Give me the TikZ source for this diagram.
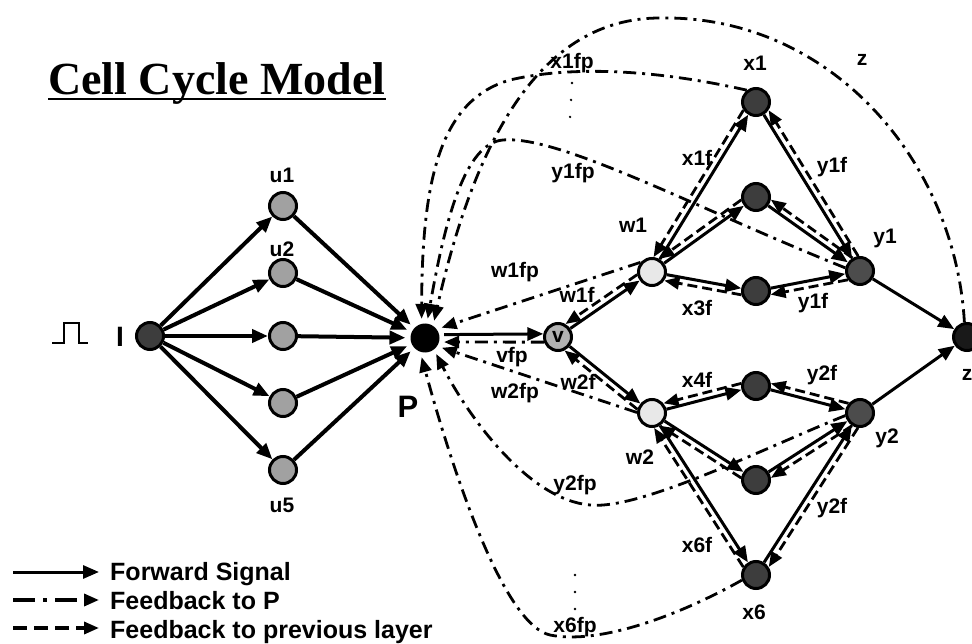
\documentclass[tikz,border=0pt]{standalone}
\usepackage{fontspec}
\setmainfont{Liberation Sans}
\newfontfamily\titlefont{Liberation Serif}
\usetikzlibrary{arrows.meta}

\begin{document}
\begin{tikzpicture}[
  x=1pt, y=-1pt,
  font=\fontsize{21}{23}\selectfont\bfseries,
  every node/.style={inner sep=0pt},
  cell/.style={circle, draw, line width=3pt, minimum size=27pt},
  dark/.style={cell, fill=black!76},
  ydark/.style={cell, fill=black!70},
  mid/.style={cell, fill=black!37},
  pale/.style={cell, fill=black!9},
  tip/.style={-{Triangle[length=16pt,width=13pt]}},
  fwd/.style={tip, line width=3pt},
  fwdin/.style={tip, line width=4pt},
  fbl/.style={-{Triangle[length=15pt,width=12pt]}, line width=2.8pt, dash pattern=on 10pt off 5pt},
  fbp/.style={-{Triangle[length=15pt,width=12pt]}, line width=2.8pt, dash pattern=on 13pt off 6pt on 3pt off 6pt},
  leader/.style={line width=2.6pt, line cap=round, dash pattern=on 0pt off 17pt},
  legtext/.style={font=\fontsize{25}{27}\selectfont\bfseries}
]
\useasboundingbox (0,0) rectangle (972,644);

% title
\node[anchor=base west, font=\titlefont\fontsize{46}{50}\selectfont\bfseries] (title) at (48,95) {Cell Cycle Model};
\draw[line width=2.4pt] ([yshift=-4pt]title.base west) -- ([yshift=-4pt]title.base east);

% input pulse
\draw[line width=2.4pt] (52,343) -- (64,343) -- (64,323) -- (79,323) -- (79,343) -- (88,343);
\node[font=\fontsize{28}{30}\selectfont\bfseries] (lI) at (120,337) {I};

% cells
\node[dark] (I) at (150,336) {};
\foreach \i/\y in {1/206,2/273,3/336,4/403,5/470}
  \node[mid] (u\i) at (283,\y) {};
\node[circle, fill=black, minimum size=29pt, outer sep=5pt] (P) at (425,338) {};
\node[cell, fill=black!30] (v) at (558,337) {v};
\node[pale] (w1) at (652,272) {};
\node[pale] (w2) at (652,413) {};
\foreach \i/\y in {1/102,2/197,3/291,4/386,5/480,6/575}
  \node[dark] (x\i) at (756,\y) {};
\node[ydark] (y1) at (860,271) {};
\node[ydark] (y2) at (860,413) {};
\node[cell, fill=black!90] (z) at (967,337) {};

% labels
\node[font=\fontsize{31}{33}\selectfont\bfseries] (lP) at (408,407) {P};
\foreach \n/\t/\x/\y in {
    u1/u1/282/175, u2/u2/282/249, u5/u5/282/505,
    x1/x1/755/63, x6/x6/754/612, w1/w1/633/225, w2/w2/640/457,
    y1/y1/885/238, y2/y2/887/438, z/z/967/375, ztop/z/862/60,
    x1fp/x1fp/572/63, y1fp/y1fp/573/173, w1fp/w1fp/515/272,
    vfp/vfp/512/357, w2fp/w2fp/515/393, y2fp/y2fp/575/485, x6fp/x6fp/575/627,
    w1f/w1f/577/295, w2f/w2f/578/382,
    x1f/x1f/697/158, x3f/x3f/697/308, y1fa/y1f/832/167, y1fb/y1f/813/303,
    x4f/x4f/697/380, x6f/x6f/697/545, y2fa/y2f/822/375, y2fb/y2f/832/508}
  \node (l\n) at (\x,\y) {\t};

% forward signal
\foreach \i in {1,...,5} {
  \draw[fwdin] (I) -- (u\i);
  \draw[fwdin] (u\i) -- (P);
}
\draw[fwd] (P.10) -- (v.168);
\draw[fwd] (v) -- (w1);
\draw[fwd] (v) -- (w2);
\foreach \i in {1,2,3} {
  \draw[fwd] (w1) -- (x\i);
  \draw[fwd] (x\i) -- (y1);
}
\foreach \i in {4,5,6} {
  \draw[fwd] (w2) -- (x\i);
  \draw[fwd] (x\i) -- (y2);
}
\draw[fwd] (y1) -- (z);
\draw[fwd] (y2) -- (z);

% feedback to the previous layer
\foreach \a/\sa/\b/\sb in {w1/190/v/60, w2/166/v/296,
    x1/213/w1/84, x2/191/w1/61, x3/195/w1/325,
    y1/97/x1/327, y1/120/x2/350, y1/216/x3/346,
    x4/170/w2/40, x5/172/w2/302, x6/148/w2/278,
    y2/140/x4/10, y2/238/x5/8, y2/262/x6/32}
  \draw[fbl] (\a.\sa) -- (\b.\sb);

% feedback to P
\draw[fbp] (v.200) -- (P.348);
\draw[fbp] (w1.140) -- (P.32);
\draw[fbp] (w2.178) -- (P.330);
\draw[fbp] (x1.128) .. controls (640,66) and (560,68) .. (510,80)
  .. controls (440,100) and (422,180) .. (P.100);
\draw[fbp] (y1.168) .. controls (700,210) and (560,135) .. (503,140)
  .. controls (465,143) and (445,220) .. (P.82);
\draw[fbp] (z.100) .. controls (955,160) and (830,15) .. (660,18)
  .. controls (540,18) and (475,140) .. (P.62);
\draw[fbp] (y2.190) .. controls (760,450) and (640,510) .. (590,505)
  .. controls (530,500) and (470,420) .. (P.305);
\draw[fbp] (x6.200) .. controls (680,615) and (600,645) .. (550,635)
  .. controls (505,625) and (455,480) .. (P.260);
\coordinate (x1fpend) at (570,118);
\coordinate (x6fpend) at (575,575);
\draw[leader] ([yshift=-10pt]lx1fp.south) -- (x1fpend);
\draw[leader] ([yshift=8pt]lx6fp.north) -- (x6fpend);

% legend
\node[legtext, anchor=base west] (lfwd) at (110,580) {Forward Signal};
\node[legtext, anchor=base west] (lfbp) at (110,609) {Feedback to P};
\node[legtext, anchor=base west] (lfbl) at (110,638) {Feedback to previous layer};
\coordinate (lfwd0) at (13,572);
\coordinate (lfbp0) at (13,600);
\coordinate (lfbl0) at (13,628);
\draw[fwd, line width=3pt, shorten >=11pt] (lfwd0) -- (lfwd0 -| lfwd.west);
\draw[fbp, line width=3.4pt, shorten >=11pt, dash pattern=on 22pt off 8pt on 4pt off 8pt] (lfbp0) -- (lfbp0 -| lfbp.west);
\draw[fbl, line width=3.4pt, shorten >=11pt, dash pattern=on 14pt off 7pt] (lfbl0) -- (lfbl0 -| lfbl.west);
\end{tikzpicture}
\end{document}
